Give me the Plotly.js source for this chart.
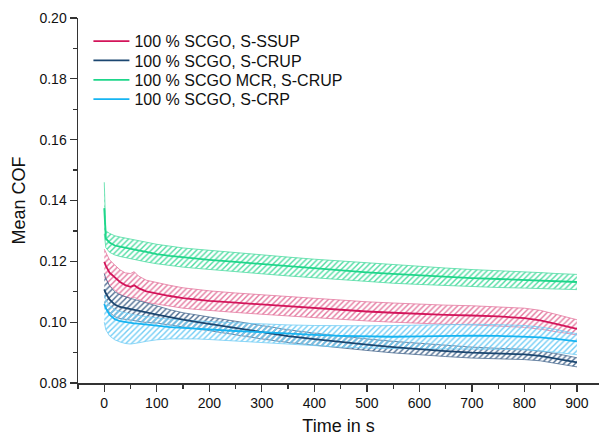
<!DOCTYPE html>
<html>
<head>
<meta charset="utf-8">
<script src="https://cdn.plot.ly/plotly-3.0.1.min.js"></script>
<style>html,body{margin:0;padding:0;background:#fff;}#chart{width:599px;height:440px;}</style>
</head>
<body>
<div id="chart"></div>
<script>
// Time in s
const timeS = [0, 3, 10, 20, 30, 40, 50, 57, 65, 80, 100, 125, 150, 175, 200, 250, 300, 350, 400, 450, 500, 550, 600, 650, 700, 750, 800, 830, 860, 900];

const seriesNames = ["100 % SCGO, S-SSUP", "100 % SCGO, S-CRUP", "100 % SCGO MCR, S-CRUP", "100 % SCGO, S-CRP"];

// 100 % SCGO, S-SSUP
const pinkMean  = [0.1198,0.1185,0.1163,0.1147,0.1132,0.1122,0.1116,0.1121,0.1112,0.1101,0.1094,0.1086,0.1079,0.1074,0.1070,0.1064,0.1058,0.1052,0.1046,0.1040,0.1035,0.1031,0.1027,0.1024,0.1022,0.1019,0.1013,0.1006,0.0994,0.0978];
const pinkUpper = [0.1240,0.1228,0.1205,0.1188,0.1172,0.1162,0.1160,0.1166,0.1152,0.1138,0.1130,0.1121,0.1113,0.1107,0.1103,0.1096,0.1090,0.1084,0.1078,0.1072,0.1067,0.1063,0.1059,0.1056,0.1054,0.1051,0.1046,0.1039,0.1026,0.1008];
const pinkLower = [0.1150,0.1140,0.1120,0.1105,0.1092,0.1083,0.1079,0.1082,0.1075,0.1065,0.1059,0.1052,0.1046,0.1042,0.1038,0.1032,0.1026,0.1020,0.1014,0.1009,0.1004,0.1000,0.0996,0.0993,0.0991,0.0988,0.0983,0.0977,0.0968,0.0958];

// 100 % SCGO, S-CRUP
const navyMean  = [0.1108,0.1095,0.1075,0.1058,0.1050,0.1046,0.1042,0.1040,0.1037,0.1032,0.1025,0.1016,0.1008,0.1001,0.0994,0.0980,0.0966,0.0954,0.0944,0.0934,0.0926,0.0918,0.0911,0.0905,0.0900,0.0897,0.0894,0.0889,0.0881,0.0868];
const navyUpper = [0.1160,0.1145,0.1120,0.1100,0.1090,0.1083,0.1078,0.1075,0.1071,0.1064,0.1052,0.1041,0.1031,0.1024,0.1017,0.1002,0.0987,0.0975,0.0964,0.0954,0.0945,0.0937,0.0930,0.0923,0.0918,0.0914,0.0911,0.0905,0.0897,0.0883];
const navyLower = [0.1060,0.1048,0.1032,0.1018,0.1012,0.1009,0.1006,0.1005,0.1003,0.0999,0.0997,0.0990,0.0984,0.0978,0.0972,0.0958,0.0945,0.0933,0.0924,0.0914,0.0907,0.0899,0.0892,0.0887,0.0882,0.0880,0.0877,0.0873,0.0865,0.0853];

// 100 % SCGO MCR, S-CRUP
const greenMean  = [0.1375,0.1275,0.1262,0.1252,0.1248,0.1244,0.1241,0.1239,0.1236,0.1231,0.1224,0.1218,0.1213,0.1209,0.1205,0.1198,0.1191,0.1184,0.1177,0.1170,0.1164,0.1159,0.1154,0.1149,0.1145,0.1142,0.1139,0.1137,0.1135,0.1132];
const greenUpper = [0.1460,0.1300,0.1292,0.1284,0.1280,0.1277,0.1274,0.1272,0.1269,0.1263,0.1256,0.1249,0.1244,0.1240,0.1236,0.1229,0.1222,0.1214,0.1207,0.1201,0.1194,0.1188,0.1183,0.1178,0.1173,0.1170,0.1166,0.1163,0.1160,0.1157];
const greenLower = [0.1290,0.1245,0.1230,0.1221,0.1216,0.1212,0.1208,0.1206,0.1203,0.1198,0.1192,0.1186,0.1181,0.1177,0.1173,0.1166,0.1159,0.1152,0.1146,0.1139,0.1133,0.1128,0.1124,0.1120,0.1117,0.1114,0.1112,0.1110,0.1108,0.1107];

// 100 % SCGO, S-CRP
const blueMean  = [0.1060,0.1045,0.1025,0.1010,0.1003,0.1000,0.0997,0.0996,0.0995,0.0992,0.0988,0.0984,0.0981,0.0978,0.0976,0.0971,0.0967,0.0962,0.0958,0.0955,0.0953,0.0952,0.0953,0.0955,0.0956,0.0955,0.0953,0.0950,0.0945,0.0937];
const blueUpper = [0.1090,0.1075,0.1055,0.1042,0.1035,0.1030,0.1026,0.1024,0.1022,0.1018,0.1014,0.1010,0.1007,0.1004,0.1002,0.0998,0.0994,0.0991,0.0989,0.0988,0.0988,0.0989,0.0991,0.0992,0.0993,0.0992,0.0989,0.0984,0.0976,0.0962];
const blueLower = [0.1000,0.0975,0.0955,0.0942,0.0935,0.0930,0.0928,0.0929,0.0932,0.0937,0.0942,0.0945,0.0946,0.0945,0.0943,0.0938,0.0932,0.0927,0.0922,0.0918,0.0915,0.0913,0.0912,0.0912,0.0912,0.0911,0.0909,0.0906,0.0901,0.0893];

const xTickVals = [0,100,200,300,400,500,600,700,800,900];
const yTickVals = [0.08,0.10,0.12,0.14,0.16,0.18,0.20];

const lineColors = ['#d3145a', '#1b4670', '#1ed68a', '#16b4f2'];
const bandColors = ['#e4789f', '#4a6b90', '#4edca2', '#72cdf5'];

const means = [pinkMean, navyMean, greenMean, blueMean];
const uppers = [pinkUpper, navyUpper, greenUpper, blueUpper];
const lowers = [pinkLower, navyLower, greenLower, blueLower];
const legendIds = ['legend', 'legend2', 'legend3', 'legend4'];

const traces = [];
for (let i = 0; i < 4; i++) {
  traces.push({
    x: timeS, y: uppers[i], type: 'scatter', mode: 'lines',
    line: {color: bandColors[i], width: 0.8}, opacity: 0.8, showlegend: false, hoverinfo: 'skip'
  });
  traces.push({
    x: timeS, y: lowers[i], type: 'scatter', mode: 'lines', fill: 'tonexty',
    fillcolor: 'rgba(255,255,255,0)',
    fillpattern: {shape: '/', fgcolor: bandColors[i], bgcolor: 'rgba(255,255,255,0)', size: 4, solidity: 0.35},
    line: {color: bandColors[i], width: 0.8}, opacity: 0.8, showlegend: false, hoverinfo: 'skip'
  });
}
for (let i = 0; i < 4; i++) {
  traces.push({
    x: timeS, y: means[i], type: 'scatter', mode: 'lines', name: seriesNames[i],
    legend: legendIds[i],
    line: {color: lineColors[i], width: 1.8}
  });
}

const fam = 'Arial, "Liberation Sans", sans-serif';
const axisFont = {family: fam, size: 14, color: '#111'};
const legendBase = {
  x: 0.02, xanchor: 'left', yanchor: 'top',
  bgcolor: 'rgba(255,255,255,0)', borderwidth: 0,
  font: {family: fam, size: 16, color: '#111'}, itemwidth: 36
};
const legendYs = [0.983, 0.930, 0.877, 0.824];

const layout = {
  width: 599, height: 440,
  margin: {l: 78, r: 0, t: 18, b: 57},
  paper_bgcolor: '#fff', plot_bgcolor: '#fff',
  font: {family: fam, color: '#111'},
  xaxis: {
    range: [-50, 942], tickvals: xTickVals, ticks: 'outside', ticklen: 7, tickwidth: 1.3, tickcolor: '#333',
    showline: true, linecolor: '#333', linewidth: 1.5, showgrid: false, zeroline: false,
    tickfont: axisFont,
    minor: {dtick: 50, tick0: 0, ticks: 'outside', ticklen: 4, tickwidth: 1.2, tickcolor: '#333', showgrid: false},
    title: {text: 'Time in s', font: {family: fam, size: 18, color: '#111'}, standoff: 9}
  },
  yaxis: {
    range: [0.08, 0.20], tickvals: yTickVals, tickformat: '.2f', ticks: 'outside', ticklen: 7, tickwidth: 1.3, tickcolor: '#333',
    showline: true, linecolor: '#333', linewidth: 1.5, showgrid: false, zeroline: false,
    tickfont: axisFont,
    minor: {dtick: 0.01, tick0: 0.08, ticks: 'outside', ticklen: 4, tickwidth: 1.2, tickcolor: '#333', showgrid: false},
    title: {text: 'Mean COF', font: {family: fam, size: 18, color: '#111'}, standoff: 9}
  },
  legend:  Object.assign({}, legendBase, {y: legendYs[0]}),
  legend2: Object.assign({}, legendBase, {y: legendYs[1]}),
  legend3: Object.assign({}, legendBase, {y: legendYs[2]}),
  legend4: Object.assign({}, legendBase, {y: legendYs[3]}),
  showlegend: true
};

Plotly.newPlot('chart', traces, layout, {displayModeBar: false, staticPlot: true});
</script>
</body>
</html>
